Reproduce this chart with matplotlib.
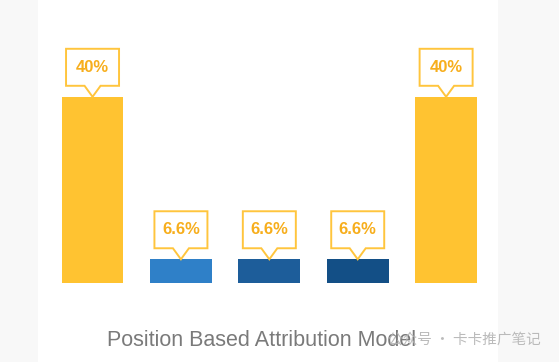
import matplotlib
matplotlib.use("Agg")
import matplotlib.pyplot as plt
from matplotlib.patches import Rectangle, Polygon
from matplotlib.transforms import Affine2D

# ---- data ----
categories = ["First touch", "Middle 1", "Middle 2", "Middle 3", "Last touch"]
values = [40, 6.6, 6.6, 6.6, 40]
labels = ["40%", "6.6%", "6.6%", "6.6%", "40%"]
colors = ["#FFC331", "#2F80C8", "#1D5D9A", "#134F86", "#FFC331"]
title = "Position Based Attribution Model"
watermark = "公众号 · 卡卡推广笔记"

W, H = 559, 362
DPI = 100
plt.rcParams['font.family'] = ['Liberation Sans', 'Noto Sans CJK SC', 'DejaVu Sans']

fig = plt.figure(figsize=(W / DPI, H / DPI), dpi=DPI)
fig.patch.set_facecolor("#F8F8F8")
# white panel
fig.patches.append(Rectangle((38 / W, 0), (498 - 38) / W, 1, transform=fig.transFigure,
                             facecolor="white", edgecolor="none", zorder=-5))

ax = fig.add_axes([38 / W, (H - 283) / H, (498 - 38) / W, 283 / H])
ax.set_facecolor("none")
ax.set_zorder(1)
x = list(range(len(values)))
ax.bar(x, values, width=0.70, color=colors, zorder=2)
ax.set_xlim(-0.617, 4.587)
ax.set_ylim(1.72, 59.9)
ax.axis("off")

# callouts (shape in pixel offsets, anchored at bar tops via data transform)
bw, bh, ph, pw = 53, 37, 11, 8
for xi, v, lab in zip(x, values, labels):
    ax_px = ax.transData.transform((xi, v))
    tr = Affine2D().translate(ax_px[0], ax_px[1])
    verts = [(0, 0), (-pw, ph), (-bw / 2, ph), (-bw / 2, ph + bh), (bw / 2, ph + bh),
             (bw / 2, ph), (pw, ph)]
    poly = Polygon(verts, closed=True, facecolor="white", edgecolor="#FFC53D",
                   linewidth=1.4, transform=tr, zorder=3)
    fig.patches.append(poly)
    fig.text(ax_px[0] / W, (ax_px[1] + ph + bh / 2) / H, lab, ha="center", va="center",
             fontsize=12, fontweight="bold", color="#F7AE1C", zorder=4)

fig.text(261.5 / W, 1 - 341 / H, title, ha="center", va="center",
         fontsize=15.5, color="#7A7A7A", zorder=5)
fig.text(541 / W, 1 - 340 / H, watermark, ha="right", va="center",
         fontsize=10.5, color="#B4B4B4", alpha=0.9, zorder=6,
         family=['Noto Sans CJK SC', 'DejaVu Sans'])

fig.savefig("out.png", dpi=DPI, facecolor=fig.get_facecolor())
